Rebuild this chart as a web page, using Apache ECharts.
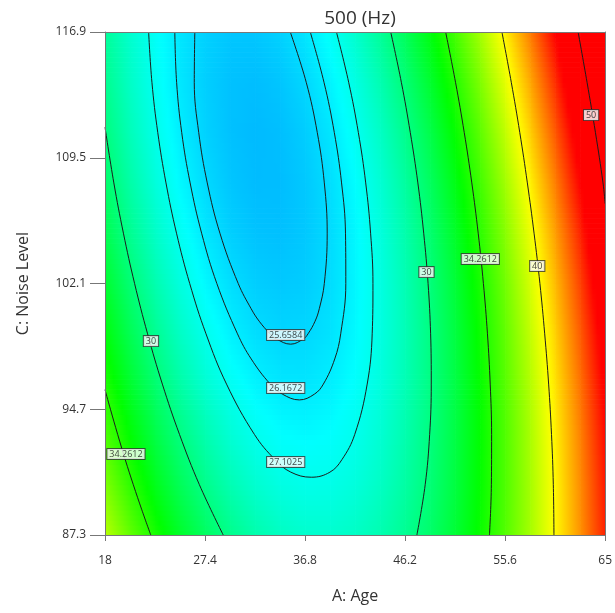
<!DOCTYPE html>
<html>
<head>
<meta charset="utf-8">
<script src="https://cdn.jsdelivr.net/npm/echarts@6/dist/echarts.min.js"></script>
<style>
html,body{margin:0;padding:0;background:#fff;}
#chart{width:615px;height:613px;}
</style>
</head>
<body>
<div id="chart"></div>
<script>
// ---------------- data ----------------
const chartTitle = '500 (Hz)';
const xName = 'A: Age';
const yName = 'C: Noise Level';
const xTicks = [18, 27.4, 36.8, 46.2, 55.6, 65];
const yTicks = [87.3, 94.7, 102.1, 109.5, 116.9];

// grid nodes of the response surface
const ages = [18, 20.35, 22.7, 25.05, 27.4, 29.75, 32.1, 34.45, 36.8, 39.15, 41.5, 43.85, 46.2, 48.55, 50.9, 53.25, 55.6, 57.95, 60.3, 62.65, 65];
const noiseLevels = [87.3, 90.26, 93.22, 96.18, 99.14, 102.1, 105.06, 108.02, 110.98, 113.94, 116.9];
// response value at each node: one row per noise level (bottom to top), one column per age
const response = [
  [38.14, 35.90, 33.94, 32.26, 30.85, 29.72, 28.86, 28.28, 27.98, 27.95, 28.20, 28.72, 29.52, 30.60, 31.95, 33.58, 35.48, 37.66, 40.12, 42.85, 45.86],
  [36.67, 34.52, 32.65, 31.05, 29.73, 28.68, 27.91, 27.42, 27.20, 27.26, 27.59, 28.20, 29.09, 30.25, 31.68, 33.40, 35.39, 37.65, 40.20, 43.01, 46.11],
  [35.34, 33.27, 31.48, 29.97, 28.74, 27.77, 27.09, 26.68, 26.55, 26.69, 27.11, 27.81, 28.78, 30.02, 31.55, 33.35, 35.42, 37.77, 40.40, 43.30, 46.48],
  [34.13, 32.15, 30.45, 29.02, 27.87, 27.00, 26.40, 26.07, 26.03, 26.26, 26.76, 27.54, 28.60, 29.93, 31.54, 33.42, 35.59, 38.02, 40.73, 43.72, 46.99],
  [33.06, 31.16, 29.55, 28.20, 27.14, 26.35, 25.83, 25.60, 25.64, 25.95, 26.54, 27.41, 28.55, 29.97, 31.66, 33.63, 35.88, 38.40, 41.20, 44.27, 47.62],
  [32.11, 30.30, 28.77, 27.51, 26.53, 25.83, 25.40, 25.25, 25.37, 25.77, 26.45, 27.40, 28.63, 30.13, 31.91, 33.97, 36.30, 38.91, 41.79, 44.95, 48.39],
  [31.29, 29.57, 28.13, 26.96, 26.06, 25.44, 25.10, 25.03, 25.24, 25.73, 26.49, 27.53, 28.84, 30.43, 32.30, 34.44, 36.86, 39.55, 42.52, 45.76, 49.29],
  [30.61, 28.97, 27.61, 26.53, 25.72, 25.18, 24.93, 24.95, 25.24, 25.81, 26.66, 27.78, 29.18, 30.86, 32.81, 35.04, 37.54, 40.32, 43.37, 46.71, 50.31],
  [30.05, 28.50, 27.23, 26.23, 25.50, 25.06, 24.89, 24.99, 25.37, 26.03, 26.96, 28.17, 29.65, 31.41, 33.45, 35.76, 38.35, 41.22, 44.36, 47.78, 51.47],
  [29.63, 28.16, 26.97, 26.06, 25.42, 25.06, 24.97, 25.16, 25.63, 26.37, 27.39, 28.68, 30.26, 32.10, 34.22, 36.62, 39.30, 42.25, 45.47, 48.98, 52.75],
  [29.33, 27.95, 26.85, 26.02, 25.47, 25.19, 25.19, 25.47, 26.02, 26.85, 27.95, 29.33, 30.99, 32.92, 35.13, 37.61, 40.37, 43.41, 46.72, 50.31, 54.17]
];

// contour lines: [age, noise level] points
const contour_25_6584 = [[26.44,116.9],[26.39,113.94],[26.81,110.98],[27.61,108.02],[28.80,105.06],[30.52,102.1],[31.73,100.62],[32.49,99.88],[33.51,99.14],[34.09,98.84],[35.45,98.53],[36.65,98.84],[37.08,99.14],[37.74,99.88],[38.14,100.62],[38.61,102.1],[38.88,105.06],[38.61,108.02],[37.95,110.98],[36.91,113.94],[35.41,116.9]];
const contour_26_1672 = [[24.56,116.9],[24.73,113.94],[25.21,110.98],[26.00,108.02],[27.08,105.06],[28.51,102.1],[30.45,99.14],[31.74,97.66],[33.53,96.18],[34.67,95.59],[36.26,95.25],[37.68,95.59],[38.52,96.18],[39.59,97.66],[40.15,99.14],[40.63,102.1],[40.60,105.06],[40.23,108.02],[39.55,110.98],[38.58,113.94],[37.29,116.9]];
const contour_27_1025 = [[22.10,116.9],[22.41,113.94],[22.96,110.98],[23.73,108.02],[24.72,105.06],[25.96,102.1],[27.49,99.14],[29.42,96.18],[32.04,93.22],[33.97,91.74],[35.46,91.0],[37.39,90.7],[39.14,91.0],[40.27,91.74],[41.47,93.22],[42.64,96.18],[43.11,99.14],[43.18,102.1],[42.96,105.06],[42.50,108.02],[41.81,110.98],[40.90,113.94],[39.75,116.9]];
const contour_30_left = [[18,111.3],[18.83,108.02],[19.73,105.06],[20.78,102.1],[22.00,99.14],[23.39,96.18],[25.00,93.22],[26.87,90.26],[29.11,87.3]];
const contour_30_right = [[44.85,116.9],[45.85,113.94],[46.69,110.98],[47.40,108.02],[47.95,105.06],[48.36,102.1],[48.60,99.14],[48.66,96.18],[48.51,93.22],[48.09,90.26],[47.31,87.3]];
const contour_34_2612_left = [[18,95.85],[18.51,94.7],[19.19,93.22],[19.90,91.74],[20.66,90.26],[21.46,88.78],[22.30,87.3]];
const contour_34_2612_right = [[50.01,116.9],[50.94,113.94],[51.76,110.98],[52.47,108.02],[53.07,105.06],[53.56,102.1],[53.94,99.14],[54.20,96.18],[54.33,93.22],[54.31,90.26],[54.13,87.3]];
const contour_40 = [[55.30,116.9],[56.18,113.94],[56.98,110.98],[57.69,108.02],[58.32,105.06],[58.87,102.1],[59.32,99.14],[59.69,96.18],[59.96,93.22],[60.13,90.26],[60.19,87.3]];
const contour_50 = [[62.46,116.9],[63.30,113.94],[64.09,110.98],[64.80,108.02],[65,106.8]];

// contour value labels: [age, noise level, text]
const contourLabels = [
  [34.98, 99.07, '25.6584'],
  [34.98, 95.95, '26.1672'],
  [34.98, 91.59, '27.1025'],
  [22.32, 98.71, '30'],
  [19.97, 92.06, '34.2612'],
  [48.21, 102.77, '30'],
  [53.27, 103.54, '34.2612'],
  [58.62, 103.13, '40'],
  [63.68, 112.01, '50']
];

// ---------------- styling ----------------
const FONT = "'Open Sans', 'Noto Sans', sans-serif";
const colorStops = [[20, [0, 0, 255]], [26.67, [0, 255, 255]], [33.33, [0, 255, 0]], [40, [255, 255, 0]], [46.67, [255, 0, 0]]];
function valueColor(v) {
  if (v <= colorStops[0][0]) return 'rgb(' + colorStops[0][1].join(',') + ')';
  for (let i = 1; i < colorStops.length; i++) {
    if (v <= colorStops[i][0]) {
      const a = colorStops[i - 1], b = colorStops[i];
      const t = (v - a[0]) / (b[0] - a[0]);
      const c = a[1].map((ch, k) => Math.round(ch + (b[1][k] - ch) * t));
      return 'rgb(' + c.join(',') + ')';
    }
  }
  return 'rgb(' + colorStops[colorStops.length - 1][1].join(',') + ')';
}

// one surface cell between neighbouring nodes
const cellData = [];
for (let j = 0; j < noiseLevels.length - 1; j++) {
  for (let i = 0; i < ages.length - 1; i++) {
    cellData.push([ages[i], noiseLevels[j], ages[i + 1], noiseLevels[j + 1],
      response[j][i], response[j][i + 1], response[j + 1][i], response[j + 1][i + 1]]);
  }
}

function renderCell(params, api) {
  const p0 = api.coord([api.value(0), api.value(1)]);
  const p1 = api.coord([api.value(2), api.value(3)]);
  const v00 = api.value(4), v10 = api.value(5), v01 = api.value(6), v11 = api.value(7);
  const left = p0[0], right = p1[0], bottom = p0[1], top = p1[1];
  const N = 10, M = 6;
  const h = (bottom - top) / N;
  const children = [];
  for (let s = 0; s < N; s++) {
    const t = (s + 0.5) / N;
    const vl = v00 + (v01 - v00) * t;
    const vr = v10 + (v11 - v10) * t;
    const stops = [];
    for (let m = 0; m <= M; m++) {
      const u = m / M;
      stops.push({ offset: u, color: valueColor(vl + (vr - vl) * u) });
    }
    children.push({
      type: 'rect',
      shape: { x: left, y: bottom - (s + 1) * h, width: right - left + 0.7, height: h + 0.7 },
      style: { fill: { type: 'linear', x: 0, y: 0, x2: 1, y2: 0, colorStops: stops, global: false } },
      silent: true
    });
  }
  return { type: 'group', children: children };
}

const contourLines = [contour_25_6584, contour_26_1672, contour_27_1025, contour_30_left, contour_30_right,
  contour_34_2612_left, contour_34_2612_right, contour_40, contour_50];

const fmt = v => String(+(+v).toFixed(1));
const axisText = { color: '#333', fontFamily: FONT };

const chart = echarts.init(document.getElementById('chart'), null, { renderer: 'canvas' });
chart.setOption({
  animation: false,
  backgroundColor: '#fff',
  title: {
    text: chartTitle, left: 355, top: 4, textAlign: 'center',
    textStyle: { fontSize: 19, fontWeight: 'normal', color: '#333', fontFamily: FONT }
  },
  grid: { left: 105, right: 9, top: 32, bottom: 78, show: false },
  xAxis: [{
    type: 'value', min: xTicks[0], max: xTicks[xTicks.length - 1], interval: 9.4, z: 10,
    name: xName, nameLocation: 'middle', nameGap: 53,
    nameTextStyle: { fontSize: 16, color: '#333', fontFamily: FONT },
    axisLine: { show: true, lineStyle: { color: '#777', width: 1 } },
    axisTick: { show: true, length: 6, lineStyle: { color: '#777' } },
    axisLabel: Object.assign({ fontSize: 12, margin: 20, formatter: fmt }, axisText),
    splitLine: { show: false }
  }, {
    type: 'value', position: 'top', min: xTicks[0], max: xTicks[xTicks.length - 1], z: 10,
    axisLine: { show: true, onZero: false, lineStyle: { color: '#777', width: 1 } },
    axisTick: { show: false }, axisLabel: { show: false }, splitLine: { show: false }
  }],
  yAxis: [{
    type: 'value', min: yTicks[0], max: yTicks[yTicks.length - 1], interval: 7.4, z: 10,
    name: yName, nameLocation: 'middle', nameGap: 74, nameRotate: 90,
    nameTextStyle: { fontSize: 16, color: '#333', fontFamily: FONT },
    axisLine: { show: true, lineStyle: { color: '#777', width: 1 } },
    axisTick: { show: true, length: 15, lineStyle: { color: '#777' } },
    axisLabel: Object.assign({ fontSize: 12, margin: 19, formatter: fmt }, axisText),
    splitLine: { show: false }
  }, {
    type: 'value', position: 'right', min: yTicks[0], max: yTicks[yTicks.length - 1], z: 10,
    axisLine: { show: true, onZero: false, lineStyle: { color: '#777', width: 1 } },
    axisTick: { show: false }, axisLabel: { show: false }, splitLine: { show: false }
  }],
  series: [{
    type: 'custom',
    name: 'surface',
    xAxisIndex: 0, yAxisIndex: 0,
    renderItem: renderCell,
    encode: { x: [0, 2], y: [1, 3] },
    data: cellData,
    clip: true,
    silent: true,
    z: 1
  }].concat(contourLines.map((pts, k) => ({
    type: 'line',
    name: 'contour' + k,
    xAxisIndex: 0, yAxisIndex: 0,
    data: pts,
    showSymbol: false,
    symbol: 'none',
    smooth: 0.4,
    clip: true,
    silent: true,
    lineStyle: { color: '#1c1c1c', width: 1 },
    z: 3
  }))).concat([{
    type: 'scatter',
    name: 'labels',
    xAxisIndex: 0, yAxisIndex: 0,
    data: contourLabels,
    symbolSize: 1,
    itemStyle: { color: 'rgba(0,0,0,0)' },
    silent: true,
    z: 5,
    label: {
      show: true, position: 'inside',
      formatter: p => p.value[2],
      fontSize: 9, color: '#111', fontFamily: FONT,
      backgroundColor: '#fff', borderColor: '#333', borderWidth: 1,
      padding: [1, 2, 0, 2]
    }
  }])
});
</script>
</body>
</html>
